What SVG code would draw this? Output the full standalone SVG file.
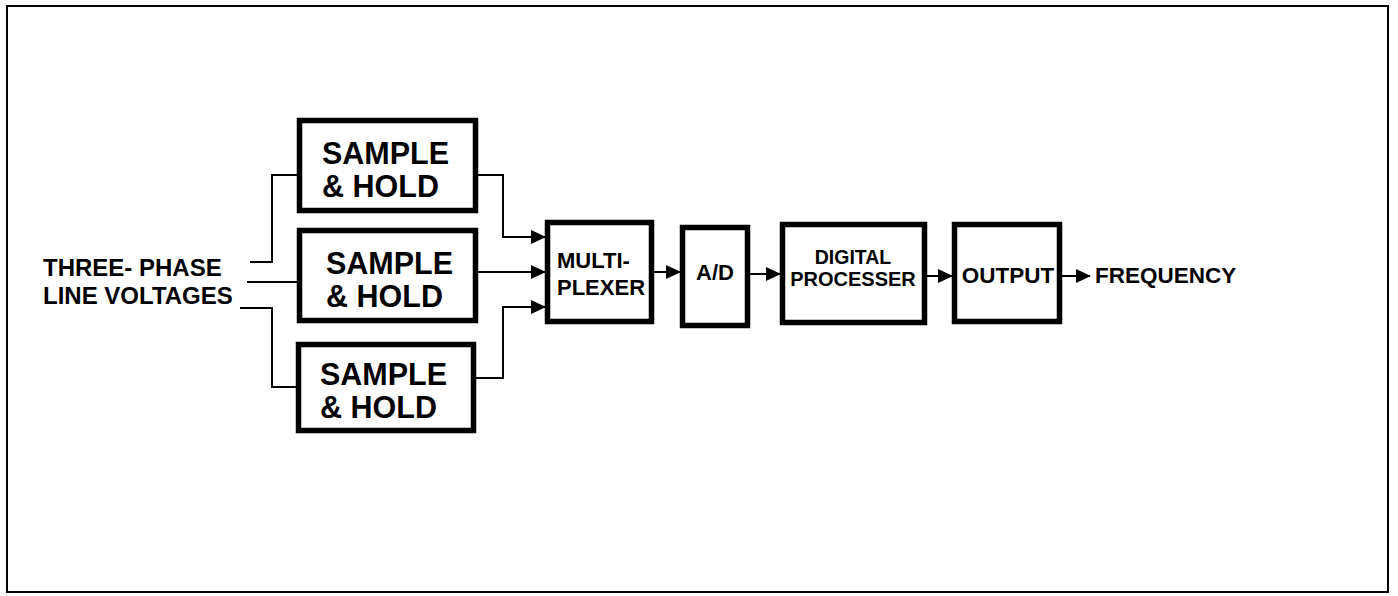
<svg xmlns="http://www.w3.org/2000/svg" width="1398" height="596" viewBox="0 0 1398 596">
<style>
.box{fill:#fff;stroke:#000;stroke-width:5.5}
.t{font-family:"Liberation Sans",Arial,sans-serif;font-weight:bold;fill:#000}
.sh{font-size:30.5px}
.c{fill:none;stroke:#000;stroke-width:2}
</style>
<defs>
<marker id="ah" markerUnits="userSpaceOnUse" markerWidth="15" markerHeight="14" refX="14" refY="7" orient="auto">
<path d="M0,0 L15,7 L0,14 Z" fill="#000"/>
</marker>
</defs>
<rect x="7" y="6" width="1381" height="586" fill="#fff" stroke="#000" stroke-width="2"/>
<g id="label-in">
<text class="t" x="43" y="276" font-size="24">THREE- PHASE</text>
<text class="t" x="43" y="304" font-size="24">LINE VOLTAGES</text>
</g>
<g id="sh1">
<rect class="box" x="299.5" y="120.5" width="176" height="90"/>
<text class="t sh" x="322" y="164">SAMPLE</text>
<text class="t sh" x="322" y="197">&amp; HOLD</text>
</g>
<g id="sh2">
<rect class="box" x="299.5" y="230.5" width="176" height="90"/>
<text class="t sh" x="326" y="274">SAMPLE</text>
<text class="t sh" x="326" y="307">&amp; HOLD</text>
</g>
<g id="sh3">
<rect class="box" x="298.5" y="344.5" width="175" height="86"/>
<text class="t sh" x="320" y="385">SAMPLE</text>
<text class="t sh" x="320" y="418">&amp; HOLD</text>
</g>
<g id="mux">
<rect class="box" x="547.5" y="222.5" width="104" height="99"/>
<text class="t" x="557" y="268" font-size="22">MULTI-</text>
<text class="t" x="557" y="295" font-size="22">PLEXER</text>
</g>
<g id="ad">
<rect class="box" x="682.5" y="227.5" width="65" height="98"/>
<text class="t" x="715" y="280" font-size="22" text-anchor="middle">A/D</text>
</g>
<g id="dp">
<rect class="box" x="782.5" y="224.5" width="142" height="98"/>
<text class="t" x="853" y="264" font-size="19.5" text-anchor="middle">DIGITAL</text>
<text class="t" x="853" y="286" font-size="20" text-anchor="middle">PROCESSER</text>
</g>
<g id="out">
<rect class="box" x="954.5" y="224.5" width="105" height="97"/>
<text class="t" x="1008" y="283" font-size="22.5" text-anchor="middle">OUTPUT</text>
</g>
<g id="label-out">
<text class="t" x="1095" y="283" font-size="22.5">FREQUENCY</text>
</g>
<g id="connectors">
<path class="c" d="M250,262 H272 V175 H297"/>
<path class="c" d="M247,282 H297"/>
<path class="c" d="M240,308 H272 V387 H296"/>
<path class="c" d="M478,175 H503 V237 H545" marker-end="url(#ah)"/>
<path class="c" d="M478,272 H545" marker-end="url(#ah)"/>
<path class="c" d="M476,378 H503 V307 H545" marker-end="url(#ah)"/>
<path class="c" d="M654,272 H680" marker-end="url(#ah)"/>
<path class="c" d="M750,274 H780" marker-end="url(#ah)"/>
<path class="c" d="M927,276 H952" marker-end="url(#ah)"/>
<path class="c" d="M1062,276 H1090" marker-end="url(#ah)"/>
</g>
</svg>
